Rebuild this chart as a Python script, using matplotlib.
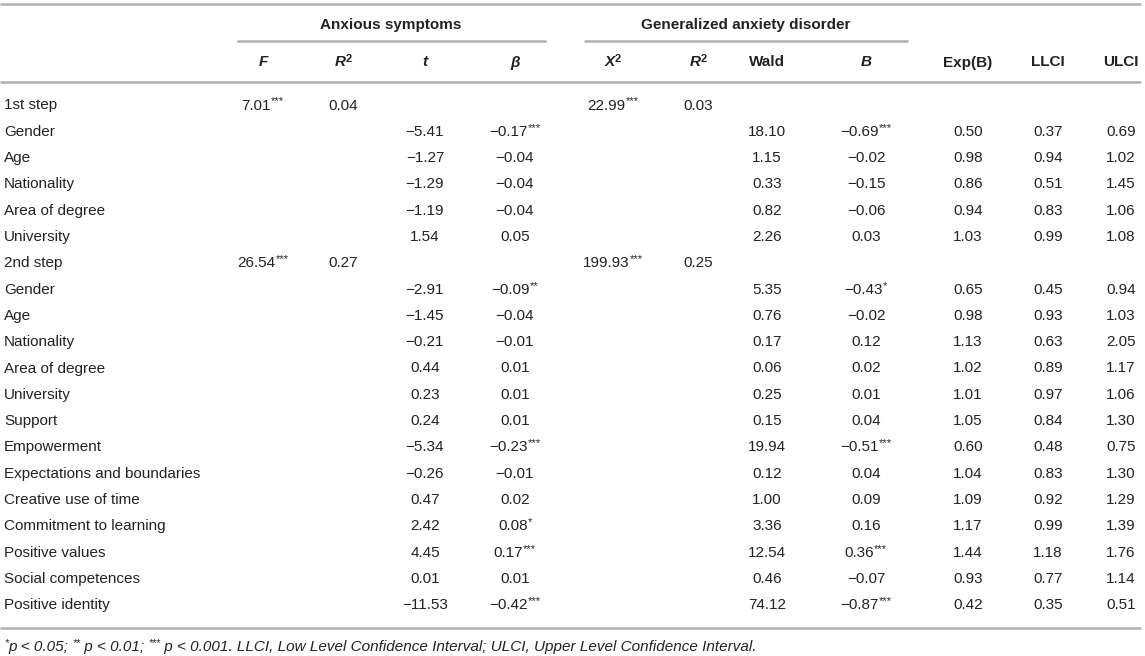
import matplotlib
matplotlib.use("Agg")
import matplotlib.pyplot as plt

plt.rcParams['font.family'] = ['Liberation Sans', 'DejaVu Sans']

row_labels = ["1st step", "Gender", "Age", "Nationality", "Area of degree", "University",
              "2nd step", "Gender", "Age", "Nationality", "Area of degree", "University",
              "Support", "Empowerment", "Expectations and boundaries", "Creative use of time",
              "Commitment to learning", "Positive values", "Social competences", "Positive identity"]

# anxious symptoms
F_vals = ["7.01***", "", "", "", "", "", "26.54***"] + [""] * 13
R2a_vals = ["0.04", "", "", "", "", "", "0.27"] + [""] * 13
t_vals = ["", "\u22125.41", "\u22121.27", "\u22121.29", "\u22121.19", "1.54", "",
          "\u22122.91", "\u22121.45", "\u22120.21", "0.44", "0.23", "0.24", "\u22125.34",
          "\u22120.26", "0.47", "2.42", "4.45", "0.01", "\u221211.53"]
beta_vals = ["", "\u22120.17***", "\u22120.04", "\u22120.04", "\u22120.04", "0.05", "",
             "\u22120.09**", "\u22120.04", "\u22120.01", "0.01", "0.01", "0.01", "\u22120.23***",
             "\u22120.01", "0.02", "0.08*", "0.17***", "0.01", "\u22120.42***"]

# generalized anxiety disorder
X2_vals = ["22.99***", "", "", "", "", "", "199.93***"] + [""] * 13
R2b_vals = ["0.03", "", "", "", "", "", "0.25"] + [""] * 13
wald_vals = ["", "18.10", "1.15", "0.33", "0.82", "2.26", "",
             "5.35", "0.76", "0.17", "0.06", "0.25", "0.15", "19.94",
             "0.12", "1.00", "3.36", "12.54", "0.46", "74.12"]
B_vals = ["", "\u22120.69***", "\u22120.02", "\u22120.15", "\u22120.06", "0.03", "",
          "\u22120.43*", "\u22120.02", "0.12", "0.02", "0.01", "0.04", "\u22120.51***",
          "0.04", "0.09", "0.16", "0.36***", "\u22120.07", "\u22120.87***"]
expB_vals = ["", "0.50", "0.98", "0.86", "0.94", "1.03", "",
             "0.65", "0.98", "1.13", "1.02", "1.01", "1.05", "0.60",
             "1.04", "1.09", "1.17", "1.44", "0.93", "0.42"]
llci_vals = ["", "0.37", "0.94", "0.51", "0.83", "0.99", "",
             "0.45", "0.93", "0.63", "0.89", "0.97", "0.84", "0.48",
             "0.83", "0.92", "0.99", "1.18", "0.77", "0.35"]
ulci_vals = ["", "0.69", "1.02", "1.45", "1.06", "1.08", "",
             "0.94", "1.03", "2.05", "1.17", "1.06", "1.30", "0.75",
             "1.30", "1.29", "1.39", "1.76", "1.14", "0.51"]

columns = [F_vals, R2a_vals, t_vals, beta_vals, X2_vals, R2b_vals,
           wald_vals, B_vals, expB_vals, llci_vals, ulci_vals]
col_x = [263, 343, 425, 515, 613, 698, 767, 866, 968, 1048, 1121]

TXT = "#222222"
LINE = "#b0b0b0"
FS = 11
SUP = 8

W, H = 1145, 656
fig = plt.figure(figsize=(W / 100, H / 100), dpi=100)
ax = fig.add_axes([0, 0, 1, 1])
ax.set_xlim(0, W)
ax.set_ylim(H, 0)
ax.axis("off")
renderer = fig.canvas.get_renderer()


def rich(x, y, parts, ha="left"):
    # parts: (text, fontsize, weight, style, raise)
    objs = []
    total = 0
    for s, size, weight, style, up in parts:
        t = ax.text(0, y - up, s, fontsize=size, fontweight=weight, fontstyle=style,
                    color=TXT, va="baseline", ha="left")
        w = t.get_window_extent(renderer).width
        objs.append((t, w))
        total += w
    pos = x - total / 2 if ha == "center" else x
    for t, w in objs:
        t.set_x(pos)
        pos += w


def cell(x, y, s):
    num = s.rstrip("*")
    stars = s[len(num):]
    parts = [(num, FS, "normal", "normal", 0)]
    if stars:
        parts.append((stars, SUP, "normal", "normal", 5))
    rich(x, y, parts, ha="center")


def hline(y, x0=0, x1=1141):
    ax.plot([x0, x1], [y, y], color=LINE, lw=1.8, solid_capstyle="butt")


# rules
hline(4)
hline(82)
hline(628)
hline(41, 237, 546)
hline(41, 584, 908)

base = 5.5  # baseline offset from visual centre of a row

# group headers
rich(391, 23 + base, [("Anxious symptoms", FS, "bold", "normal", 0)], ha="center")
rich(746, 23 + base, [("Generalized anxiety disorder", FS, "bold", "normal", 0)], ha="center")

# column headers
hy = 61 + base
headers = [
    [("F", FS, "bold", "italic", 0)],
    [("R", FS, "bold", "italic", 0), ("2", SUP, "bold", "normal", 5)],
    [("t", FS, "bold", "italic", 0)],
    [("\u03b2", FS, "bold", "italic", 0)],
    [("X", FS, "bold", "italic", 0), ("2", SUP, "bold", "normal", 5)],
    [("R", FS, "bold", "italic", 0), ("2", SUP, "bold", "normal", 5)],
    [("Wald", FS, "bold", "normal", 0)],
    [("B", FS, "bold", "italic", 0)],
    [("Exp(B)", FS, "bold", "normal", 0)],
    [("LLCI", FS, "bold", "normal", 0)],
    [("ULCI", FS, "bold", "normal", 0)],
]
for x, parts in zip(col_x, headers):
    rich(x, hy, parts, ha="center")

# body
row_y0 = 104
row_step = 26.3
for i, label in enumerate(row_labels):
    y = row_y0 + i * row_step + base
    ax.text(4, y, label, fontsize=FS, color=TXT, va="baseline", ha="left")
    for x, vals in zip(col_x, columns):
        if vals[i]:
            cell(x, y, vals[i])

# footnote
fy = 646 + 5
fs_note = 11
fs_star = 7.5
rich(4, fy, [
    ("*", fs_star, "normal", "italic", 4.5),
    ("p < 0.05; ", fs_note, "normal", "italic", 0),
    ("**", fs_star, "normal", "italic", 4.5),
    (" p < 0.01; ", fs_note, "normal", "italic", 0),
    ("***", fs_star, "normal", "italic", 4.5),
    (" p < 0.001. LLCI, Low Level Confidence Interval; ULCI, Upper Level Confidence Interval.",
     fs_note, "normal", "italic", 0),
])

fig.savefig("out.png", dpi=100)
